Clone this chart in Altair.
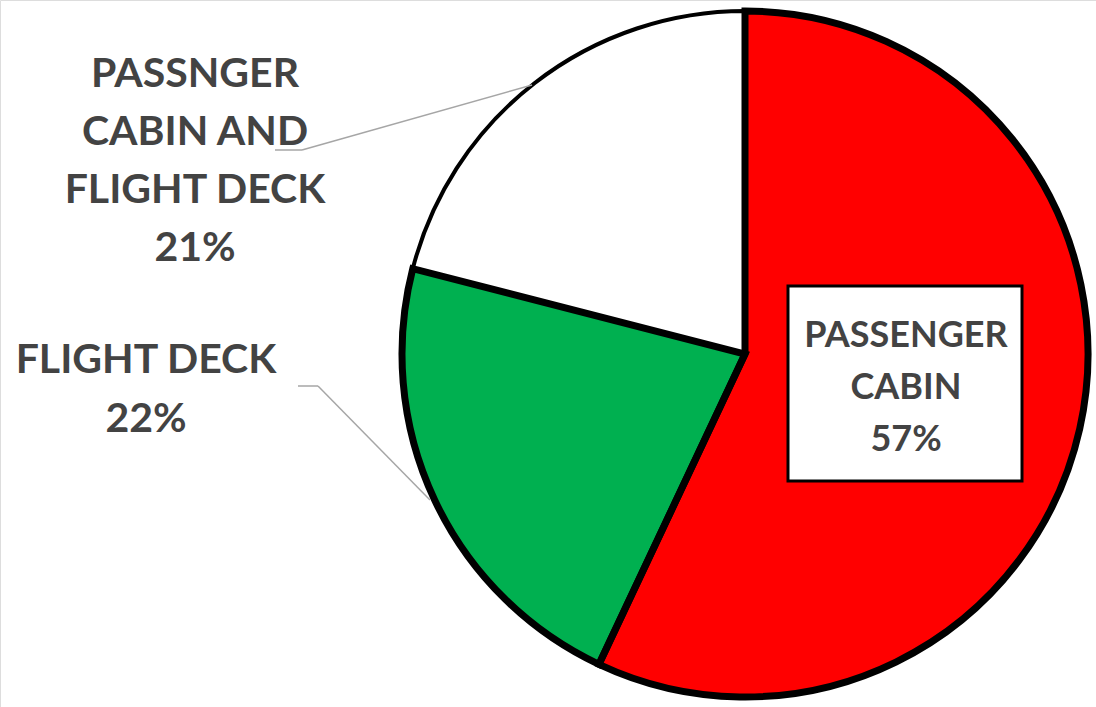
import altair as alt
import pandas as pd

# ---- data ----
categories = ["PASSENGER CABIN", "FLIGHT DECK", "PASSNGER CABIN AND FLIGHT DECK"]
values = [57, 22, 21]
colors = ["#FF0000", "#00B050", "#FFFFFF"]
label_lines = [
    ["PASSENGER", "CABIN"],
    ["FLIGHT DECK"],
    ["PASSNGER", "CABIN AND", "FLIGHT DECK"],
]

df = pd.DataFrame({
    "category": categories,
    "value": values,
    "color": colors,
    "idx": list(range(len(categories))),
    "thick": [0 if c == "#FFFFFF" else 1 for c in colors],
    "label": ["\n".join(l + [f"{v}%"]) for l, v in zip(label_lines, values)],
})

W, H = 1096, 707
CX, CY, R = 745, 354, 343
TEXT = "#434343"
FONT = "Lato"

base = alt.Chart(df)

theta = alt.Theta("value:Q", stack=True)
order = alt.Order("idx:Q")

pie = base.mark_arc(radius=R, stroke="black", strokeWidth=4, strokeJoin="miter").encode(
    theta=theta, order=order,
    color=alt.Color("color:N", scale=None),
    x=alt.value(CX), y=alt.value(CY),
)

pie_edges = base.mark_arc(radius=R, stroke="black", strokeWidth=7, strokeJoin="miter",
                          fillOpacity=0).encode(
    theta=theta, order=order,
    fill=alt.value("white"),
    strokeOpacity=alt.StrokeOpacity("thick:Q", scale=None),
    x=alt.value(CX), y=alt.value(CY),
)

# label box for the largest slice
box = alt.Chart(pd.DataFrame({"a": [0]})).mark_rect(
    fill="white", stroke="black", strokeWidth=3
).encode(x=alt.value(788), x2=alt.value(1022), y=alt.value(286), y2=alt.value(481))

def label(i, x, y, size, lh):
    return base.transform_filter(alt.datum.idx == i).mark_text(
        font=FONT, fontWeight="bold", fontSize=size, color=TEXT,
        align="center", baseline="alphabetic", lineBreak="\n", lineHeight=lh,
    ).encode(text="label:N", x=alt.value(x), y=alt.value(y))

lab0 = label(0, 906, 347, 36, 52)
lab1 = label(1, 146, 373, 41, 59)
lab2 = label(2, 195, 87, 41, 58)

def seg(x1, y1, x2, y2):
    return alt.Chart(pd.DataFrame({"a": [0]})).mark_rule(
        color="#A6A6A6", strokeWidth=1.5
    ).encode(x=alt.value(x1), y=alt.value(y1), x2=alt.value(x2), y2=alt.value(y2))

leaders = [
    seg(275, 150, 302, 150), seg(302, 150, 532, 85),
    seg(298, 386, 318, 386), seg(318, 386, 430, 500),
]

chart = alt.layer(pie, pie_edges, box, lab0, lab1, lab2, *leaders).properties(
    width=W, height=H, padding=0,
    autosize=alt.AutoSizeParams(type="none"),
).configure_view(stroke=None).configure(background="white")

chart.save("out.html", embed_options={"renderer": "svg", "actions": False})
